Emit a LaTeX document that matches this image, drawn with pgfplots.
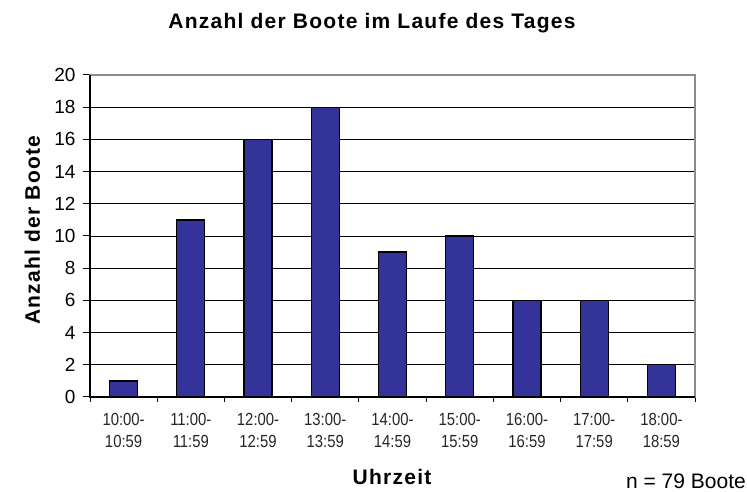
\documentclass[border=0pt]{standalone}
\usepackage{fontspec}
\setmainfont{Liberation Sans}
\newfontfamily\narrowfont[FakeStretch=0.85]{Liberation Sans}
\usepackage{pgfplots}
\pgfplotsset{compat=1.18}
\definecolor{barblue}{HTML}{333399}
\definecolor{bordergray}{HTML}{8C8C8C}
\begin{document}
\begin{tikzpicture}[x=1bp,y=1bp]
\useasboundingbox (-90,-95) rectangle (657,397);
\begin{axis}[
  scale only axis,
  width=605bp, height=322bp,
  xmin=-0.5, xmax=8.5, ymin=0, ymax=20,
  ytick={0,2,...,20},
  xtick={-0.5,0.5,...,8.5},
  x tick label as interval,
  xtick pos=bottom, ytick pos=left,
  xticklabels={{10:00-\\10:59},{11:00-\\11:59},{12:00-\\12:59},{13:00-\\13:59},{14:00-\\14:59},{15:00-\\15:59},{16:00-\\16:59},{17:00-\\17:59},{18:00-\\18:59}},
  xticklabel style={font=\narrowfont\fontsize{17.5bp}{22bp}\selectfont, align=center, inner sep=0pt, yshift=-12bp, text=black!85},
  yticklabel style={font=\fontsize{19bp}{22bp}\selectfont, inner sep=0pt, xshift=-10bp},
  /pgf/number format/assume math mode=true,
  tick align=outside,
  ytick style={black, line width=1bp, /pgfplots/major tick length=7bp},
  xtick style={black, line width=1bp, /pgfplots/major tick length=5bp},
  ymajorgrids,
  major grid style={black, line width=0.9bp},
  axis line style={bordergray, line width=1.2bp},
  clip=false,
]
\addplot[ybar, bar width=28bp, fill=barblue, draw=black, line width=1.3bp]
  coordinates {(0,1) (1,11) (2,16) (3,18) (4,9) (5,10) (6,6) (7,6) (8,2)};
\draw[bordergray, line width=1.2bp] (rel axis cs:0,1) -- (rel axis cs:1,1) -- (rel axis cs:1,0);
\draw[black, line width=1.4bp] (rel axis cs:0,1) -- (rel axis cs:0,0) -- (rel axis cs:1,0);
\end{axis}
\node[anchor=base, font=\bfseries\addfontfeature{LetterSpace=6}\fontsize{21bp}{24bp}\selectfont] at (282,368) {Anzahl der Boote im Laufe des Tages};
\node[anchor=base, rotate=90, font=\bfseries\addfontfeature{LetterSpace=6}\fontsize{21bp}{24bp}\selectfont] at (-50,167) {Anzahl der Boote};
\node[anchor=base, font=\bfseries\addfontfeature{LetterSpace=6}\fontsize{21bp}{24bp}\selectfont] at (302,-88) {Uhrzeit};
\node[anchor=base east, inner sep=0pt, font=\fontsize{21bp}{24bp}\selectfont] at (656,-92) {n = 79 Boote};
\end{tikzpicture}
\end{document}
